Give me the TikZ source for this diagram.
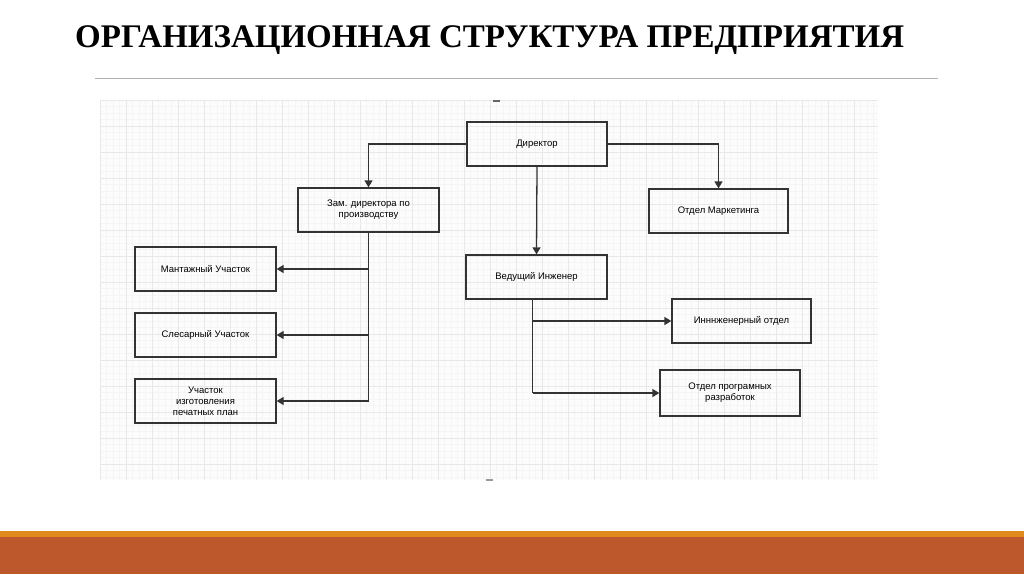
\documentclass[tikz,border=0pt]{standalone}
\usepackage{fontspec}
\setmainfont{Liberation Serif}
\newfontfamily\diag{Liberation Sans}
\usetikzlibrary{arrows.meta}
\definecolor{stripA}{HTML}{E08A1E}
\definecolor{stripB}{HTML}{BD582C}
\tikzset{box/.style={draw=black!80,line width=1.3pt,align=center,font=\diag\fontsize{9.5}{11}\selectfont,inner sep=1pt},
conn/.style={draw=black!80,line width=1.3pt,-{Triangle[length=7pt,width=8pt]}},
ln/.style={draw=black!80,line width=1.3pt}}
\begin{document}
\begin{tikzpicture}[x=1pt,y=-1pt]
\useasboundingbox (0,0) rectangle (1024,574);
\fill[white] (0,0) rectangle (1024,574);
\node[font=\bfseries\fontsize{33}{36}\selectfont,anchor=west,inner sep=0] (title) at (75,40) {ОРГАНИЗАЦИОННАЯ СТРУКТУРА ПРЕДПРИЯТИЯ};
\draw[black!30,line width=1pt] (95,78) -- (938,78);
% grid
\fill[black!1] (100,100) rectangle (878,480);
\foreach \i in {0,...,119} {\draw[black!4,line width=0.4pt] ({100+6.5*\i},100) -- ({100+6.5*\i},480);}
\foreach \j in {0,...,58} {\draw[black!4,line width=0.4pt] (100,{100+6.5*\j}) -- (878,{100+6.5*\j});}
\foreach \i in {0,...,29} {\draw[black!9,line width=0.5pt] ({100+26*\i},100) -- ({100+26*\i},480);}
\foreach \j in {0,...,14} {\draw[black!9,line width=0.5pt] (100,{100+26*\j}) -- (878,{100+26*\j});}
\fill[black!60] (493,100) rectangle (500,102);
\fill[black!40] (486,479) rectangle (493,481);
% strips
\fill[stripA] (0,531) rectangle (1024,537);
\fill[stripB] (0,537) rectangle (1024,574);
% boxes
\node[box,minimum width=140,minimum height=44] (dir) at (537,144) {Директор};
\node[box,minimum width=141,minimum height=44] (zam) at (368.5,210) {Зам. директора по\\производству};
\node[box,minimum width=139,minimum height=44] (mkt) at (718.5,211) {Отдел Маркетинга};
\node[box,minimum width=141,minimum height=44] (ved) at (536.5,277) {Ведущий Инженер};
\node[box,minimum width=141,minimum height=44] (mon) at (205.5,269) {Мантажный Участок};
\node[box,minimum width=141,minimum height=44] (sle) at (205.5,335) {Слесарный Участок};
\node[box,minimum width=141,minimum height=44] (uch) at (205.5,401) {Участок\\изготовления\\печатных план};
\node[box,minimum width=139,minimum height=44] (ing) at (741.5,321) {Инннженерный отдел};
\node[box,minimum width=140,minimum height=46] (prg) at (730,393) {Отдел програмных\\разработок};
% connectors
\draw[conn] (dir.west) -| (zam.north);
\draw[conn] (dir.east) -| (mkt.north);
\draw[conn] (dir.south) -- (ved.north);
\coordinate (zb) at (zam.south);
\draw[ln] (zb) -- (zb |- uch.east);
\draw[conn] (zb |- mon.east) -- (mon.east);
\draw[conn] (zb |- sle.east) -- (sle.east);
\draw[conn] (zb |- uch.east) -- (uch.east);
\coordinate (vb) at ([xshift=-4]ved.south);
\draw[ln] (vb) -- (vb |- prg.west);
\draw[conn] (vb |- ing.west) -- (ing.west);
\draw[conn] (vb |- prg.west) -- (prg.west);
\end{tikzpicture}
\end{document}
